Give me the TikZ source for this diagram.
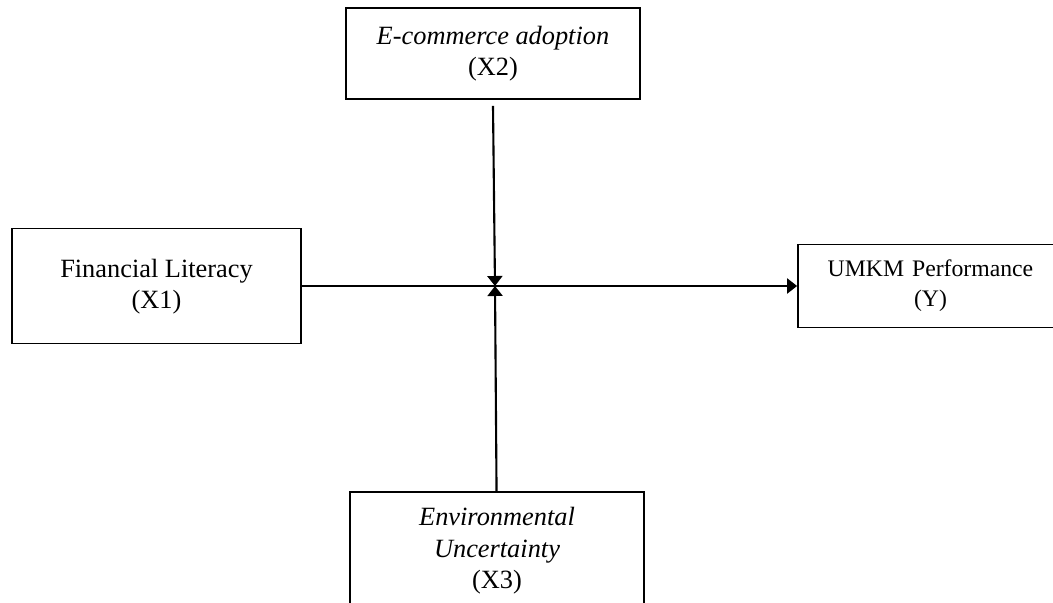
\documentclass[tikz,border=0pt]{standalone}
\usepackage{fontspec}
\setmainfont{Liberation Serif}
\usetikzlibrary{arrows.meta}
\begin{document}
\begin{tikzpicture}[auto, line width=1.2pt, var node/.style={rectangle,draw,line width=1pt,align=center,font=\fontsize{15}{18}\selectfont}, arr/.style={-{Triangle[length=0.2cm,width=0.3cm]}}]%
\useasboundingbox (0,0) rectangle (21.06,-12.06);
\clip (0,0) rectangle (21.06,-12.06);
\begin{scope}
\node[var node, minimum width=5.78cm, minimum height=2.30cm, text depth=0.5ex] (x1) at (3.13,-5.72) {Financial Literacy\\(X1)};
\node[var node, minimum width=5.88cm, minimum height=1.82cm] (x2) at (9.86,-1.07) {\textit{E-commerce adoption}\\(X2)};
\node[var node, minimum width=5.88cm, minimum height=2.36cm] (x3) at (9.94,-11.02) {\textit{Environmental}\\\textit{Uncertainty}\\(X3)};
\node[var node, minimum width=5.6cm, minimum height=1.66cm, font=\fontsize{13.5}{17}\selectfont, text width=5.2cm] (y) at (18.76,-5.72) {\hspace*{-0.3cm}UMKM Performance\\\hspace*{-0.3cm}(Y)};
\coordinate (m) at (9.90,-5.72);
%\node[var node] (v) at (,) {};
\end{scope}
\begin{scope}
\draw[arr]  (x1) -- (y);
\draw[arr]  ([yshift=-0.12cm]x2.south) -- (m);
\draw[arr]  (x3) -- (m);
%\draw  (v) edge node{} (v);
\end{scope}
\end{tikzpicture}
\end{document}
